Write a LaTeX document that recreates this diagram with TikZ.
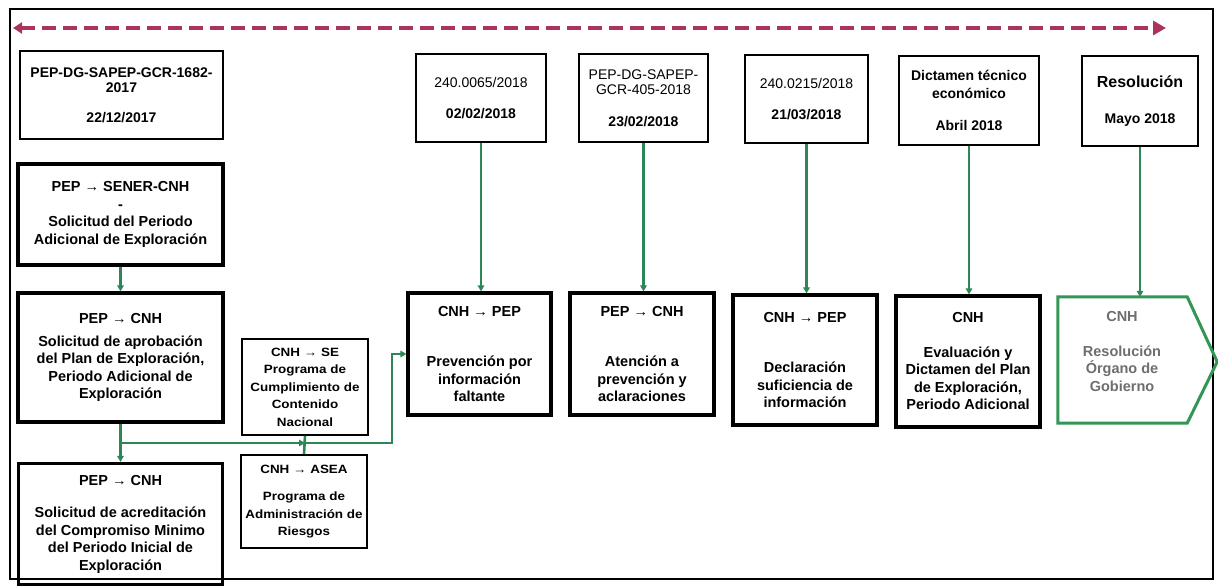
\documentclass[tikz,border=0pt]{standalone}
\usepackage{fontspec}
\setmainfont{Liberation Sans}
\newfontfamily\widefont[FakeStretch=1.12]{Liberation Sans}
\usetikzlibrary{arrows.meta}
\definecolor{dashcol}{RGB}{172,52,92}
\definecolor{lgreen}{RGB}{45,135,85}
\definecolor{pgreen}{RGB}{50,150,85}
\definecolor{ptext}{RGB}{110,110,110}
\tikzset{
  thinbox/.style={draw, line width=1.7pt, inner sep=0pt, align=center,
    font=\fontsize{14}{15.5}\selectfont},
  thickbox/.style={draw, line width=3.2pt, inner sep=0pt, align=center,
    font=\fontsize{14.5}{17.5}\selectfont\bfseries},
  smallbox/.style={draw, line width=1.6pt, inner sep=0pt, align=center,
    font=\widefont\fontsize{12}{17.5}\selectfont\bfseries},
  conn/.style={draw=lgreen, line width=2.6pt, -{Triangle[length=6pt,width=6.5pt]}},
  plainconn/.style={draw=lgreen, line width=2.6pt},
  timeline/.style={draw=dashcol, line width=4.5pt, dash pattern=on 14pt off 7pt,
    {Triangle[length=9pt,width=11pt]}-{Triangle[length=13pt,width=14pt]}}
}
\begin{document}
\begin{tikzpicture}[x=1pt,y=-1pt]
\useasboundingbox (0,0) rectangle (1218,588);
\fill[white] (0,0) rectangle (1218,588);
% frame
\draw[line width=1.6pt] (10,9) rectangle (1213,579);
% timeline
\coordinate (ds) at (13,28);
\coordinate (de) at (1166,28);
\draw[timeline] (ds) -- (de);

% top row
\node[thinbox, font=\fontsize{14}{15}\selectfont\bfseries, minimum width=203pt, minimum height=88pt] (B1) at (121.5,95)
  {PEP-DG-SAPEP-GCR-1682-\\2017\\[15pt]22/12/2017};
\node[thinbox, minimum width=130pt, minimum height=88pt] (t2) at (481,98)
  {240.0065/2018\\[15pt]\textbf{02/02/2018}};
\node[thinbox, minimum width=129pt, minimum height=88pt] (t3) at (643.5,98)
  {PEP-DG-SAPEP-\\GCR-405-2018\\[16pt]\textbf{23/02/2018}};
\node[thinbox, minimum width=123pt, minimum height=88pt] (t4) at (806.5,99)
  {240.0215/2018\\[15pt]\textbf{21/03/2018}};
\node[thinbox, font=\fontsize{14}{17.5}\selectfont\bfseries, minimum width=140pt, minimum height=89pt] (t5) at (969,100.5)
  {Dictamen técnico\\económico\\[15pt]Abril 2018};
\node[thinbox, font=\fontsize{14}{17.5}\selectfont\bfseries, minimum width=116pt, minimum height=90pt] (t6) at (1140,101)
  {{\fontsize{16}{17.5}\selectfont Resolución}\\[19pt]Mayo 2018};

% left column
\node[thickbox, minimum width=205pt, minimum height=101pt] (L1) at (120.5,214.5)
  {PEP → SENER-CNH\\-\\Solicitud del Periodo\\Adicional de Exploración};
\node[thickbox, minimum width=205pt, minimum height=129pt] (L2) at (120.5,357.5)
  {PEP → CNH\\[5pt]Solicitud de aprobación\\del Plan de Exploración,\\Periodo Adicional de\\Exploración};
\node[thickbox, minimum width=204pt, minimum height=121pt] (L3) at (120.5,524)
  {PEP → CNH\\[15pt]Solicitud de acreditación\\del Compromiso Minimo\\del Periodo Inicial de\\Exploración};

% middle small boxes
\node[smallbox, minimum width=126pt, minimum height=96pt] (M1) at (305,387)
  {CNH → SE\\Programa de\\Cumplimiento de\\Contenido\\Nacional};
\node[smallbox, minimum width=126pt, minimum height=93pt] (M2) at (304,501.5)
  {CNH → ASEA\\[10pt]Programa de\\Administración de\\Riesgos};

% bottom row
\node[thickbox, minimum width=143pt, minimum height=122pt] (b2) at (479.5,354)
  {CNH → PEP\\[33pt]Prevención por\\información\\faltante};
\node[thickbox, minimum width=144pt, minimum height=122pt] (b3) at (642,354)
  {PEP → CNH\\[33pt]Atención a\\prevención y\\aclaraciones};
\node[thickbox, minimum width=144pt, minimum height=130pt] (b4) at (805,360)
  {CNH → PEP\\[33pt]Declaración\\suficiencia de\\información};
\node[thickbox, minimum width=144pt, minimum height=131pt] (b5) at (968,361.5)
  {CNH\\[17pt]Evaluación y\\Dictamen del Plan\\de Exploración,\\Periodo Adicional};

% pentagon
\node[inner sep=0pt, minimum width=129pt, minimum height=126pt] (b6) at (1122.5,360) {};
\draw[draw=pgreen, line width=3pt, line join=miter]
  (b6.north west) -- (b6.north east) -- ++(30,65) -- (b6.south east) -- (b6.south west) -- cycle;
\node[align=center, text=ptext, font=\fontsize{14.5}{17.5}\selectfont\bfseries] (b6text) at (1122,351.5)
  {CNH\\[17pt]Resolución\\Órgano de\\Gobierno};

% connectors
\draw[conn] (L1.south) -- (L2.north);
\draw[conn] (L2.south) -- (L3.north);
\coordinate (j1) at (120.5,443);
\coordinate (j2) at (M1.south |- j1);
\draw[conn] (j1) -- (j2);
\draw[plainconn] (M1.south) -- (M2.north);
\draw[conn] (j2) -- ++(87,0) |- (b2.west);

\draw[conn] (t2.south) -- (t2.south |- b2.north);
\draw[conn] (t3.south) -- (t3.south |- b3.north);
\draw[conn] (t4.south) -- (t4.south |- b4.north);
\draw[conn] (t5.south) -- (t5.south |- b5.north);
\draw[conn] (t6.south) -- (t6.south |- b6.north);
\end{tikzpicture}
\end{document}
